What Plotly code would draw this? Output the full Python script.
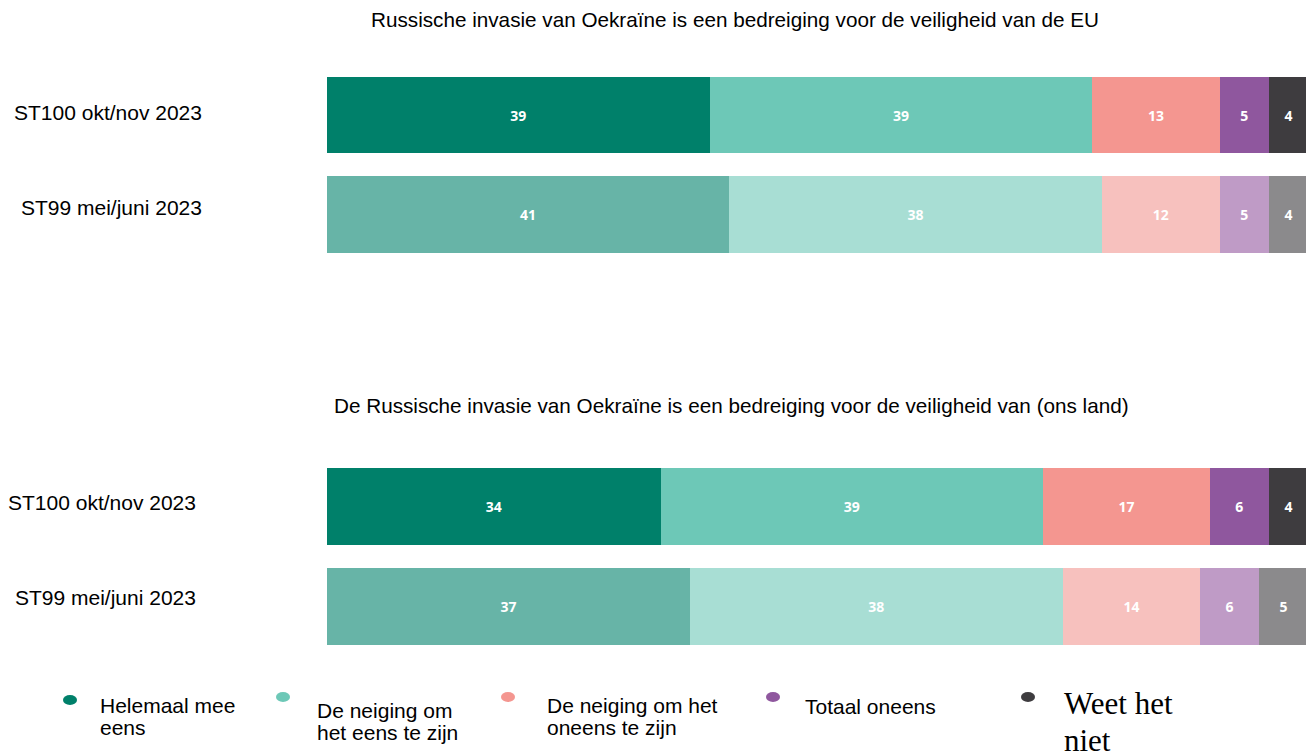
import plotly.graph_objects as go
from plotly.subplots import make_subplots

categories = ["ST100 okt/nov 2023", "ST99 mei/juni 2023"]
answers = ["Helemaal mee eens", "De neiging om het eens te zijn",
           "De neiging om het oneens te zijn", "Totaal oneens", "Weet het niet"]
legend_lines = [["Helemaal mee", "eens"], ["De neiging om", "het eens te zijn"],
                ["De neiging om het", "oneens te zijn"], ["Totaal oneens"], ["Weet het", "niet"]]

titles = ["Russische invasie van Oekraïne is een bedreiging voor de veiligheid van de EU",
          "De Russische invasie van Oekraïne is een bedreiging voor de veiligheid van (ons land)"]

# values per answer: [ST100, ST99]
eu_values = [[39, 41], [39, 38], [13, 12], [5, 5], [4, 4]]
land_values = [[34, 37], [39, 38], [17, 14], [6, 6], [4, 5]]

colors_now = ["#00806A", "#6DC8B7", "#F49690", "#8F579E", "#3E3C3F"]
colors_prev = ["#67B4A7", "#A8DED4", "#F7C1BE", "#BF9BC6", "#8B8A8C"]

W, H = 1314, 756
OFF = 8  # page body margin


def px_x(p):
    return (p - OFF) / W


def px_y(p):
    return 1 - (p - OFF) / H


fig = make_subplots(rows=2, cols=1, shared_xaxes=False)

for row, data in enumerate([eu_values, land_values], start=1):
    for i, ans in enumerate(answers):
        fig.add_trace(go.Bar(
            y=categories,
            x=data[i],
            orientation='h',
            name=ans,
            marker=dict(color=[colors_now[i], colors_prev[i]], line=dict(width=0)),
            text=[str(v) for v in data[i]],
            textposition='inside',
            insidetextanchor='middle',
            textangle=0,
            textfont=dict(color='white', size=14, family='Open Sans', weight='bold'),
            showlegend=False,
            hoverinfo='x+name'
        ), row=row, col=1)

x_dom = [px_x(327), px_x(1308)]

fig.update_layout(
    barmode='stack',
    bargap=0.236,
    width=W,
    height=H,
    margin=dict(l=0, r=0, t=0, b=0),
    paper_bgcolor='white',
    plot_bgcolor='white',
    xaxis=dict(domain=x_dom, range=[0, 100], visible=False),
    xaxis2=dict(domain=x_dom, range=[0, 100], visible=False),
    yaxis=dict(domain=[px_y(264.25), px_y(65.25)], categoryorder='array',
               categoryarray=categories, autorange='reversed', visible=False),
    yaxis2=dict(domain=[px_y(656.5), px_y(456.5)], categoryorder='array',
                categoryarray=categories, autorange='reversed', visible=False),
    font=dict(family='Liberation Sans, Arial', color='black'),
)

sans = 'Liberation Sans, Arial'

# row labels
label_pos = [(204, 112), (204, 207), (198, 502), (198, 597)]
for k, (lx, ly) in enumerate(label_pos):
    fig.add_annotation(x=px_x(lx), y=px_y(ly), xref='paper', yref='paper',
                       text=categories[k % 2], showarrow=False, xanchor='right', yanchor='middle',
                       font=dict(size=21, family=sans))

# panel titles
fig.add_annotation(x=px_x(735), y=px_y(20), xref='paper', yref='paper', text=titles[0],
                   showarrow=False, font=dict(size=20.7, family=sans), xanchor='center', yanchor='middle')
fig.add_annotation(x=px_x(731), y=px_y(405), xref='paper', yref='paper', text=titles[1],
                   showarrow=False, font=dict(size=20.7, family=sans), xanchor='center', yanchor='middle')

# custom legend
dot_pos = [(70, 700), (283, 697), (508, 697), (773, 697), (1028, 697)]
text_x = [98, 315, 545, 803, 1062]
text_y = [[705, 727], [710, 732], [705, 727], [706], [703, 740]]
for i, lines in enumerate(legend_lines):
    dx, dy = dot_pos[i]
    fig.add_shape(type='circle', xref='paper', yref='paper',
                  x0=px_x(dx - 7), x1=px_x(dx + 7), y0=px_y(dy + 5), y1=px_y(dy - 5),
                  fillcolor=colors_now[i], line=dict(width=0))
    serif = i == 4
    for line, ty in zip(lines, text_y[i]):
        fig.add_annotation(x=px_x(text_x[i]), y=px_y(ty), xref='paper', yref='paper', text=line,
                           showarrow=False, xanchor='left', yanchor='middle', align='left',
                           font=dict(size=31 if serif else 21,
                                     family='Liberation Serif, Times New Roman' if serif else sans))

fig.write_html("out.html")
